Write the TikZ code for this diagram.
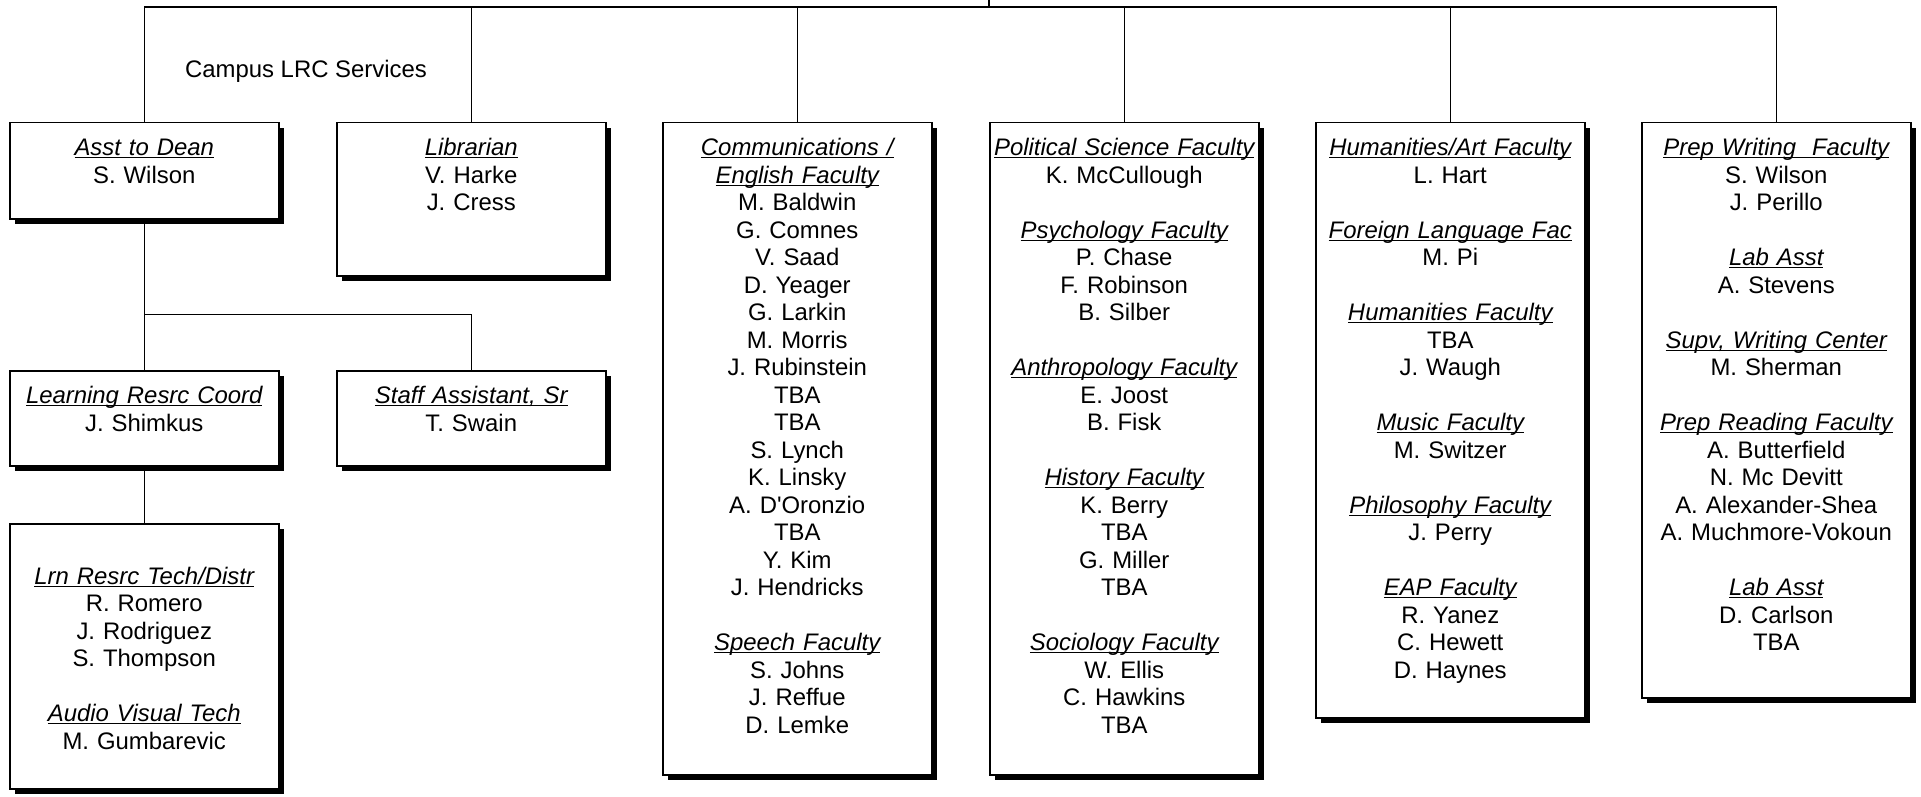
\documentclass[tikz,border=0pt]{standalone}
\usepackage{fontspec}
\setmainfont{Liberation Sans}
\usepackage{tikz}
\usetikzlibrary{shadows}
\newcommand{\hdr}[1]{\leavevmode\setbox0\hbox{\itshape #1}\rlap{\rule[-2.6pt]{\wd0}{1.3pt}}\box0}

\begin{document}
\begin{tikzpicture}[x=1pt,y=-1pt,line width=1.3pt,font=\fontsize{23.9}{27.5}\selectfont]
    \tikzstyle{post}=[draw,fill=white,line width=1.5pt,inner sep=0pt,anchor=north west,
        text width=269pt,align=center,text height=33pt,
        drop shadow={shadow xshift=5pt,shadow yshift=-5pt,opacity=1,fill=black}]
    \tikzstyle{wire}=[line width=1.3pt]

    \path[use as bounding box,fill=white] (0,0) rectangle (1921,797);

    % top row
    \node[post,text depth=63pt] (dean) at (9,122) {\hdr{Asst to Dean}\\S. Wilson};
    \node[post,text depth=120pt] (lib) at (336,122) {\hdr{Librarian}\\V. Harke\\J. Cress};
    \node[post,text depth=619pt] (comm) at (662,122) {\hdr{Communications /}\\\hdr{English Faculty}\\M. Baldwin\\G. Comnes\\V. Saad\\D. Yeager\\G. Larkin\\M. Morris\\J. Rubinstein\\TBA\\TBA\\S. Lynch\\K. Linsky\\A. D\textquotesingle Oronzio\\TBA\\Y. Kim\\J. Hendricks\\[27.5pt]\hdr{Speech Faculty}\\S. Johns\\J. Reffue\\D. Lemke};
    \node[post,text depth=619pt] (polsci) at (989,122) {\hdr{Political Science Faculty}\\K. McCullough\\[27.5pt]\hdr{Psychology Faculty}\\P. Chase\\F. Robinson\\B. Silber\\[27.5pt]\hdr{Anthropology Faculty}\\E. Joost\\B. Fisk\\[27.5pt]\hdr{History Faculty}\\K. Berry\\TBA\\G. Miller\\TBA\\[27.5pt]\hdr{Sociology Faculty}\\W. Ellis\\C. Hawkins\\TBA};
    \node[post,text depth=562pt] (hum) at (1315,122) {\hdr{Humanities/Art Faculty}\\L. Hart\\[27.5pt]\hdr{Foreign Language Fac}\\M. Pi\\[27.5pt]\hdr{Humanities Faculty}\\TBA\\J. Waugh\\[27.5pt]\hdr{Music Faculty}\\M. Switzer\\[27.5pt]\hdr{Philosophy Faculty}\\J. Perry\\[27.5pt]\hdr{EAP Faculty}\\R. Yanez\\C. Hewett\\D. Haynes};
    \node[post,text depth=542pt] (prep) at (1641,122) {\hdr{Prep Writing\ \ Faculty}\\S. Wilson\\J. Perillo\\[27.5pt]\hdr{Lab Asst}\\A. Stevens\\[27.5pt]\hdr{Supv, Writing Center}\\M. Sherman\\[27.5pt]\hdr{Prep Reading Faculty}\\A. Butterfield\\N. Mc Devitt\\A. Alexander-Shea\\A. Muchmore-Vokoun\\[27.5pt]\hdr{Lab Asst}\\D. Carlson\\TBA};

    % under the dean
    \node[post,text depth=62pt] (lrc) at (9,370) {\hdr{Learning Resrc Coord}\\J. Shimkus};
    \node[post,text depth=62pt] (staff) at (336,370) {\hdr{Staff Assistant, Sr}\\T. Swain};
    \node[post,text depth=232pt] (tech) at (9,523) {\mbox{}\\\hdr{Lrn Resrc Tech/Distr}\\R. Romero\\J. Rodriguez\\S. Thompson\\[27.5pt]\hdr{Audio Visual Tech}\\M. Gumbarevic};

    \node[anchor=base] (campus) at (306,78) {Campus LRC Services};

    \coordinate (root) at (989,0);
    \coordinate (bus) at (989,7);
    \path (dean.south) ++(0,95) coordinate (fork);

    \draw[wire] (root) -- (bus);
    \draw[wire] (dean.north) |- (bus) -| (prep.north);
    \foreach \n in {lib,comm,polsci,hum}
        \draw[wire] (\n.north) -- (\n.north |- bus);
    \path   (dean) edge [wire] (lrc)
            (lrc) edge [wire] (tech);
    \draw[wire] (staff.north) |- (fork);
\end{tikzpicture}
\end{document}
